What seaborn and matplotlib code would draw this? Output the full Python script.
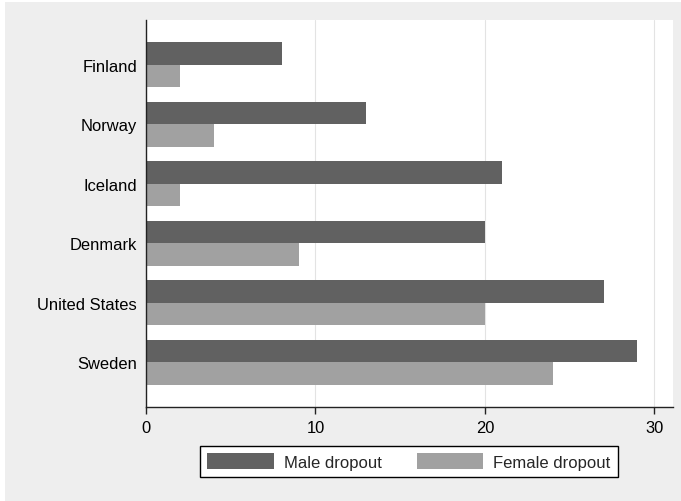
import pandas as pd
import matplotlib
matplotlib.use('Agg')
import matplotlib.pyplot as plt
import matplotlib.patches as mpatches
import seaborn as sns

countries = ['Finland', 'Norway', 'Iceland', 'Denmark', 'United States', 'Sweden']
male_dropout = [8, 13, 21, 20, 27, 29]
female_dropout = [2, 4, 2, 9, 20, 24]
series_labels = ['Male dropout', 'Female dropout']
x_ticks = [0, 10, 20, 30]

male_col = '#616161'
female_col = '#a1a1a1'
bg_col = '#eeeeee'

df = pd.DataFrame({
    'country': countries * 2,
    'value': male_dropout + female_dropout,
    'series': [series_labels[0]] * len(countries) + [series_labels[1]] * len(countries),
})

sns.set_style('white')
plt.rcParams['font.family'] = ['Liberation Sans', 'DejaVu Sans']
plt.rcParams['font.size'] = 12

fig = plt.figure(figsize=(6.81, 5.02), dpi=100, facecolor='white')
# grey outer background, slightly cropped at left/top like the original
fig.patches.append(mpatches.Rectangle((5 / 681, 0), 1, 1 - 3 / 502, transform=fig.transFigure,
                                      facecolor=bg_col, edgecolor='none', zorder=-10))
ax = fig.add_axes([146 / 681, 1 - 408 / 502, (673 - 146) / 681, (408 - 21) / 502])
ax.set_facecolor('white')

sns.barplot(data=df, x='value', y='country', hue='series', order=countries,
            hue_order=series_labels, palette={series_labels[0]: male_col, series_labels[1]: female_col},
            orient='h', width=0.76, saturation=1, legend=False, ax=ax, edgecolor='none')

ax.set_xlim(0, 31.1)
ax.set_ylim(5.75, -0.75)
ax.set_xticks(x_ticks)
ax.set_xlabel('')
ax.set_ylabel('')
ax.xaxis.grid(True, color='#e3e3e3', linewidth=0.8)
ax.set_axisbelow(True)
for s in ['top', 'right']:
    ax.spines[s].set_visible(False)
for s in ['left', 'bottom']:
    ax.spines[s].set_color('#222222')
    ax.spines[s].set_linewidth(1.0)
ax.tick_params(axis='y', length=0, pad=6.5, labelsize=11.9, colors='black')
ax.tick_params(axis='x', length=5, width=1, direction='out', pad=4.5, labelsize=11.9,
               color='#222222', labelcolor='black', bottom=True)

handles = [mpatches.Patch(facecolor=male_col, edgecolor='none', label=series_labels[0]),
           mpatches.Patch(facecolor=female_col, edgecolor='none', label=series_labels[1])]
leg = fig.legend(handles=handles, loc='center', bbox_to_anchor=(409 / 681, 1 - 462.5 / 502),
                 ncol=2, frameon=True, fancybox=False, edgecolor='black', framealpha=1,
                 fontsize=12, handlelength=4.0, handleheight=1.1, handletextpad=0.6,
                 columnspacing=2.1, borderpad=0.42)
leg.get_frame().set_linewidth(1.0)

fig.savefig('out.png', dpi=100, facecolor=fig.get_facecolor())
